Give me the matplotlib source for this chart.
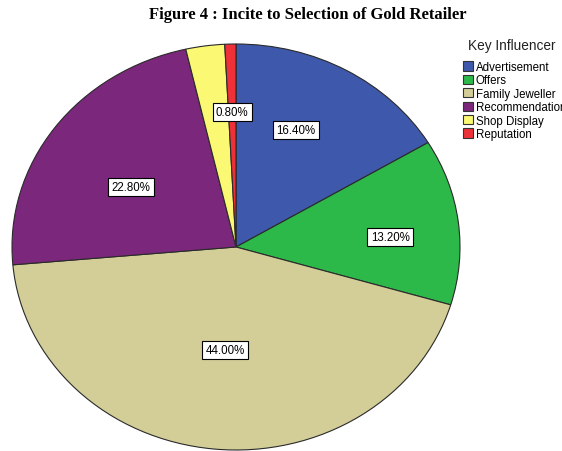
import numpy as np
import matplotlib.pyplot as plt
from matplotlib.patches import Patch

categories = ["Advertisement", "Offers", "Family Jeweller", "Recommendation",
              "Shop Display", "Reputation"]
shares = [16.4, 13.2, 44.0, 22.8, 2.8, 0.8]
colors = ["#3e58ac", "#2db84a", "#d3ce98", "#7b277c", "#fbf873", "#ee3139"]
# which slices get a percentage box, and where the box sits
show_label = [True, True, True, True, False, True]
label_radius = [0.635, 0.69, 0.51, 0.555, 0.6, 0.665]
label_turn = [4.5, -3.0, 0.3, 3.7, 0.0, 0.0]   # degrees off the slice middle

W, H = 562, 452
fig = plt.figure(figsize=(W / 100, H / 100), dpi=100)

# pie occupies an elliptical area (wider than tall)
ax = fig.add_axes([12 / W, 1 / H, 448 / W, 406 / H])
wedges, _ = ax.pie(shares, colors=colors, startangle=90, counterclock=False,
                   radius=1.0,
                   wedgeprops=dict(edgecolor="#2a2a2a", linewidth=0.8))
ax.set_aspect("auto")
ax.set_xlim(-1, 1)
ax.set_ylim(-1, 1)
ax.axis("off")

for w, val, show, r, turn in zip(wedges, shares, show_label, label_radius, label_turn):
    if not show:
        continue
    mid = np.deg2rad((w.theta1 + w.theta2) / 2 + turn)
    ax.text(r * np.cos(mid), r * np.sin(mid), f"{val:.2f}%",
            ha="center", va="center", fontsize=8.3, family="Liberation Sans",
            bbox=dict(boxstyle="square,pad=0.28", fc="white", ec="black", lw=0.8))

fig.text(308 / W, 1 - 15 / H, "Figure 4 : Incite to Selection of Gold Retailer",
         ha="center", va="center", fontsize=12, fontweight="bold",
         family="Liberation Serif")

fig.text(512 / W, 1 - 46 / H, "Key Influencer", ha="center", va="center",
         fontsize=9.8, family="Liberation Sans", color="#222222")

# legend entries, clipped at the right edge like the original export
handles = [Patch(facecolor=c, edgecolor="#333333", linewidth=0.8) for c in colors]
leg = fig.legend(handles, categories, loc="upper left",
                 bbox_to_anchor=(455 / W, 1 - 54 / H), frameon=False,
                 prop=dict(family="Liberation Sans", size=8.3),
                 handlelength=0.85, handleheight=0.85, handletextpad=0.25,
                 labelspacing=0.12, borderpad=0.2)

fig.savefig("out.png", dpi=100)
